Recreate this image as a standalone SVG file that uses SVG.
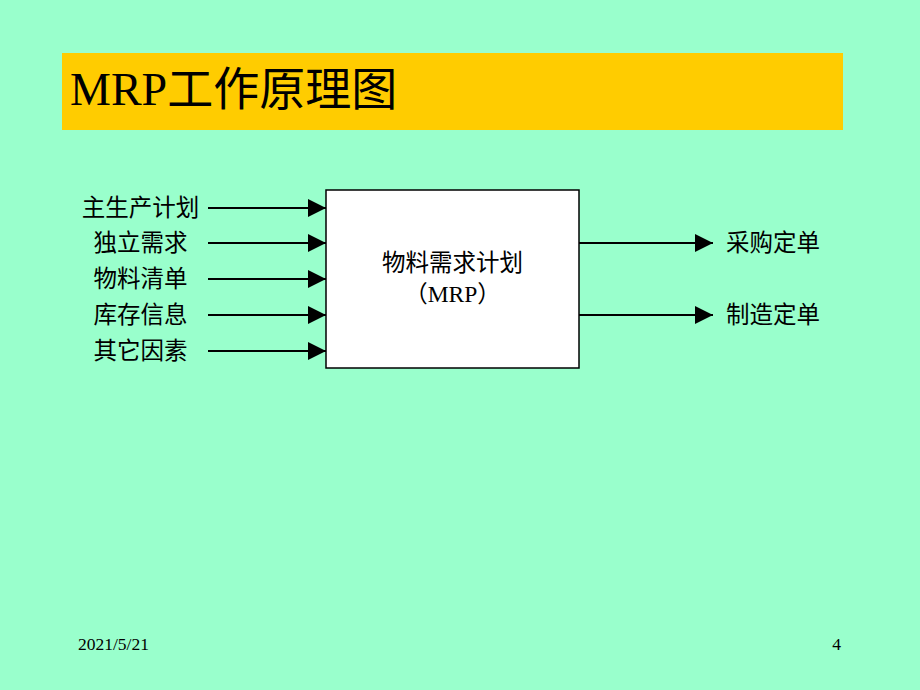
<svg xmlns="http://www.w3.org/2000/svg" width="920" height="690" viewBox="0 0 920 690">
<style>
.cjk{font-family:"Liberation Serif","Noto Sans CJK SC",serif;fill:#000}
.lbl{font-size:23.5px;text-anchor:middle;dominant-baseline:central}
.start{text-anchor:start}
.conn line{stroke:#000;stroke-width:2}
.head{fill:#000}
.foot{font-family:"Liberation Serif",serif;font-size:17.5px;fill:#000}
</style>
<defs>
<marker id="ah" markerWidth="18" markerHeight="18" refX="18" refY="9" orient="auto" markerUnits="userSpaceOnUse">
<path d="M0,0 L18,9 L0,18 Z" class="head"/>
</marker>
</defs>
<rect width="920" height="690" fill="#99FFCC"/>
<g id="title">
<rect x="62" y="53" width="781" height="77" fill="#FFCC00"/>
<text x="70" y="105" class="cjk" font-size="46">MRP工作原理图</text>
</g>
<g id="mrp">
<rect x="326" y="190" width="253" height="178" fill="#fff" stroke="#000" stroke-width="1.5"/>
<text x="452.5" y="263" class="cjk lbl">物料需求计划</text>
<text x="452.5" y="294" class="cjk lbl">（MRP）</text>
</g>
<g id="in1"><text x="140.5" y="208" class="cjk lbl">主生产计划</text></g>
<g id="in2"><text x="140.5" y="243" class="cjk lbl">独立需求</text></g>
<g id="in3"><text x="140.5" y="279" class="cjk lbl">物料清单</text></g>
<g id="in4"><text x="140.5" y="315" class="cjk lbl">库存信息</text></g>
<g id="in5"><text x="140.5" y="351" class="cjk lbl">其它因素</text></g>
<g id="out1"><text x="726" y="243" class="cjk lbl start">采购定单</text></g>
<g id="out2"><text x="726" y="315" class="cjk lbl start">制造定单</text></g>
<g class="conn" id="connectors">
<line x1="208" y1="208" x2="326" y2="208" marker-end="url(#ah)"/>
<line x1="208" y1="243" x2="326" y2="243" marker-end="url(#ah)"/>
<line x1="208" y1="279" x2="326" y2="279" marker-end="url(#ah)"/>
<line x1="208" y1="315" x2="326" y2="315" marker-end="url(#ah)"/>
<line x1="208" y1="351" x2="326" y2="351" marker-end="url(#ah)"/>
<line x1="579" y1="243" x2="713" y2="243" marker-end="url(#ah)"/>
<line x1="579" y1="315" x2="713" y2="315" marker-end="url(#ah)"/>
</g>
<text x="78" y="650" class="foot">2021/5/21</text>
<text x="841" y="650" class="foot" text-anchor="end">4</text>
</svg>
